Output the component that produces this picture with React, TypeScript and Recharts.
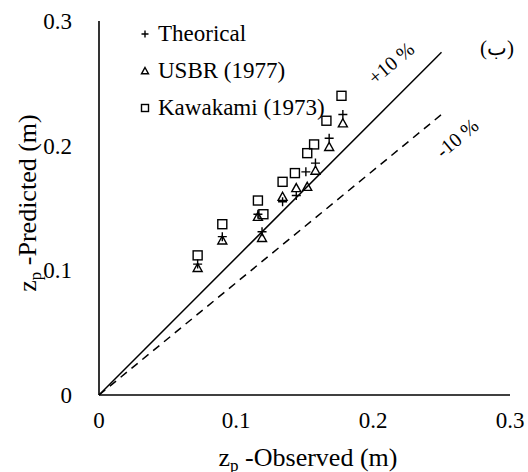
import { ScatterChart, Scatter, XAxis, YAxis, ReferenceLine } from "recharts"

// observed vs predicted scour depth (m)
const theoricalX = [0.072, 0.09, 0.116, 0.119, 0.134, 0.144, 0.151, 0.158, 0.168, 0.178]
const theoricalY = [0.105, 0.127, 0.145, 0.131, 0.155, 0.16, 0.179, 0.186, 0.206, 0.225]
const usbrX = [0.072, 0.09, 0.116, 0.119, 0.134, 0.144, 0.152, 0.158, 0.168, 0.178]
const usbrY = [0.102, 0.124, 0.143, 0.126, 0.159, 0.166, 0.167, 0.18, 0.199, 0.218]
const kawakamiX = [0.072, 0.09, 0.116, 0.12, 0.134, 0.143, 0.152, 0.157, 0.166, 0.177]
const kawakamiY = [0.112, 0.137, 0.156, 0.145, 0.171, 0.178, 0.194, 0.201, 0.22, 0.24]

const axisTicks = [0, 0.1, 0.2, 0.3]
const upperLine = [{ x: 0, y: 0 }, { x: 0.25, y: 0.275 }]
const lowerLine = [{ x: 0, y: 0 }, { x: 0.25, y: 0.225 }]

const toPoints = (xs: number[], ys: number[]) => xs.map((x, i) => ({ x, y: ys[i] }))

const serif = { fontFamily: '"Liberation Serif", Tinos, "Times New Roman", Times, "DejaVu Serif", serif' }

function Plus({ cx, cy, s = 4.5 }: any) {
  return <path d={`M${cx - s},${cy}H${cx + s}M${cx},${cy - s}V${cy + s}`} stroke="#000" strokeWidth={1.4} fill="none" />
}

function Triangle({ cx, cy, s = 4.5 }: any) {
  return (
    <path d={`M${cx},${cy - s}L${cx + s},${cy + s * 0.8}L${cx - s},${cy + s * 0.8}Z`} stroke="#000" strokeWidth={1.4} fill="none" />
  )
}

function Square({ cx, cy, s = 4.5 }: any) {
  return <rect x={cx - s} y={cy - s} width={2 * s} height={2 * s} stroke="#000" strokeWidth={1.4} fill="none" />
}

const fmt = (v: number) => (v === 0 ? "0" : String(v))

function XTick({ x, y, payload }: any) {
  return (
    <text x={x} y={y + 31} textAnchor="middle" style={serif} fontSize={23} fill="#000">
      {fmt(payload.value)}
    </text>
  )
}

function YTick({ x, y, payload }: any) {
  return (
    <text x={x - 25} y={y + 8} textAnchor="end" style={serif} fontSize={23} fill="#000">
      {fmt(payload.value)}
    </text>
  )
}

const legendItems = [
  { label: "Theorical", Icon: Plus },
  { label: "USBR (1977)", Icon: Triangle },
  { label: "Kawakami (1973)", Icon: Square },
]

export default function App() {
  return (
    <div style={{ position: "absolute", left: 0, top: 0, width: 528, height: 472, background: "#fff", ...serif }}>
      <ScatterChart width={528} height={472} margin={{ top: 21, right: 18, bottom: 47, left: 39 }}>
        <XAxis
          type="number"
          dataKey="x"
          domain={[0, 0.3]}
          ticks={axisTicks}
          tick={<XTick />}
          tickLine={false}
          tickSize={0}
          height={30}
          axisLine={{ stroke: "#000", strokeWidth: 1.6 }}
        />
        <YAxis
          type="number"
          dataKey="y"
          domain={[0, 0.3]}
          ticks={axisTicks}
          tick={<YTick />}
          tickLine={false}
          tickSize={0}
          width={60}
          axisLine={{ stroke: "#000", strokeWidth: 1.6 }}
        />
        <ReferenceLine segment={upperLine} stroke="#000" strokeWidth={1.5} />
        <ReferenceLine segment={lowerLine} stroke="#000" strokeWidth={1.5} strokeDasharray="8 6" />
        <Scatter data={toPoints(kawakamiX, kawakamiY)} shape={<Square />} isAnimationActive={false} />
        <Scatter data={toPoints(usbrX, usbrY)} shape={<Triangle />} isAnimationActive={false} />
        <Scatter data={toPoints(theoricalX, theoricalY)} shape={<Plus />} isAnimationActive={false} />
      </ScatterChart>

      {/* legend, line labels and axis titles */}
      <svg width={528} height={472} style={{ position: "absolute", left: 0, top: 0, pointerEvents: "none", ...serif }}>
        {legendItems.map(({ label, Icon }, i) => {
          const base = 41 + i * 37
          return (
            <g key={label}>
              <Icon cx={145} cy={base - 7} s={3.5} />
              <text x={158} y={base} fontSize={23} fill="#000">
                {label}
              </text>
            </g>
          )
        })}
        <text x={391} y={70} textAnchor="middle" fontSize={20} transform="rotate(-40 391 63)">
          +10 %
        </text>
        <text x={457} y={145} textAnchor="middle" fontSize={20} transform="rotate(-40 457 138)">
          -10 %
        </text>
        <text x={497} y={55} textAnchor="middle" fontSize={21}>
          (ب)
        </text>
        <text x={308} y={466} textAnchor="middle" fontSize={26}>
          z<tspan fontSize={17} dy={5}>p</tspan>
          <tspan dy={-5}> -Observed (m)</tspan>
        </text>
        <text x={36} y={203} textAnchor="middle" fontSize={26} transform="rotate(-90 36 203)">
          z<tspan fontSize={17} dy={5}>p</tspan>
          <tspan dy={-5}> -Predicted (m)</tspan>
        </text>
      </svg>
    </div>
  )
}
